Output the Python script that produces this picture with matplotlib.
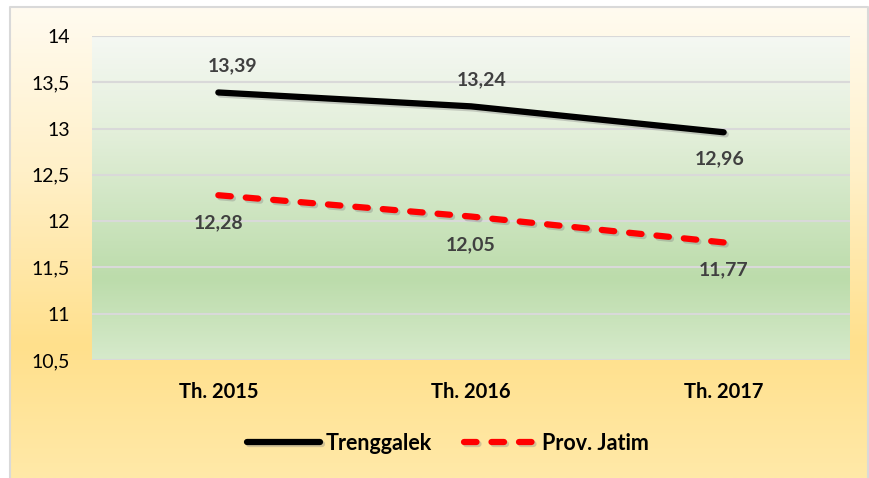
import numpy as np
import matplotlib
matplotlib.use("Agg")
from matplotlib import pyplot as plt
from matplotlib.colors import LinearSegmentedColormap
from matplotlib import patheffects as pe

#%% # Data

years = ["Th. 2015", "Th. 2016", "Th. 2017"]
trenggalek = [13.39, 13.24, 12.96]
jatim = [12.28, 12.05, 11.77]
yticks = [10.5, 11, 11.5, 12, 12.5, 13, 13.5, 14]

#%% # Plot

plt.rcParams['font.family'] = ['Lato', 'DejaVu Sans']

W, H = 870, 478
fig = plt.figure(figsize=(W / 100, H / 100), dpi=100)
fig.patch.set_facecolor('white')

# outer chart area with yellow gradient
bg = fig.add_axes([0, 0, 1, 1])
bg.set_xlim(0, W)
bg.set_ylim(H, 0)
bg.axis('off')
ycmap = LinearSegmentedColormap.from_list(
    'outer', [(0.0, '#fffbf0'), (0.35, '#fff0c8'), (0.72, '#ffe08c'), (1.0, '#ffe9a8')])
grad = np.linspace(0, 1, 256).reshape(-1, 1)
bg.imshow(grad, cmap=ycmap, aspect='auto', extent=(10, 868, 478, 7), zorder=0)
bg.plot([10, 10, 868, 868], [478, 7, 7, 478], color='#d9d9d9', lw=1.5, zorder=1)

# plot area
ax = fig.add_axes([92 / W, (H - 360) / H, 758 / W, 324 / H])
x = np.arange(len(years))
ax.set_xlim(-0.5, len(years) - 0.5)
ax.set_ylim(10.5, 14)

gcmap = LinearSegmentedColormap.from_list(
    'plot', [(0.0, '#f5f8f3'), (0.3, '#e3efda'), (0.75, '#bcdcab'), (1.0, '#d6eacb')])
ax.imshow(grad, cmap=gcmap, aspect='auto', extent=(-0.5, len(years) - 0.5, 10.5, 14), zorder=0)

for yv in yticks:
    ax.axhline(yv, color='#d9d9d9', lw=1.5, zorder=1)

shadow = [pe.SimpleLineShadow(offset=(1.5, -1.5), shadow_color='#808080', alpha=0.35), pe.Normal()]

ax.plot(x, trenggalek, color='black', lw=4.5, solid_capstyle='round',
        label='Trenggalek', zorder=3, path_effects=shadow)
ax.plot(x, jatim, color='#ff0000', lw=4.5, dash_capstyle='round',
        linestyle=(0, (2.0, 2.4)), label='Prov. Jatim', zorder=3, path_effects=shadow)

lab_style = dict(ha='center', va='center', fontsize=14, fontweight='bold',
                 color='#404040', textcoords='offset points')
top_off = [(10, 19), (8, 19)]
for i, v in enumerate(trenggalek):
    off = top_off[i] if i < len(top_off) else (-3, -19)
    ax.annotate(f"{v:.2f}".replace('.', ','), (x[i], v), xytext=off, **lab_style)
for i, v in enumerate(jatim):
    ax.annotate(f"{v:.2f}".replace('.', ','), (x[i], v), xytext=(0, -20), **lab_style)

ax.set_xticks(x)
ax.set_xticklabels(years, fontsize=14.5, fontweight='bold')
ax.set_yticks(yticks)
ax.set_yticklabels([f"{t:g}".replace('.', ',') for t in yticks], fontsize=14)
ax.tick_params(axis='x', length=0, pad=16)
ax.tick_params(axis='y', length=0, pad=16)
for s in ax.spines.values():
    s.set_visible(False)
ax.patch.set_alpha(0)

fig.legend(loc='center', bbox_to_anchor=(448 / W, 1 - 443 / H), ncol=2, frameon=False,
           prop={'size': 15.5, 'weight': 'bold'}, handlelength=3.4, handletextpad=0.25,
           columnspacing=1.5)

plt.savefig("out.png", dpi=100)
